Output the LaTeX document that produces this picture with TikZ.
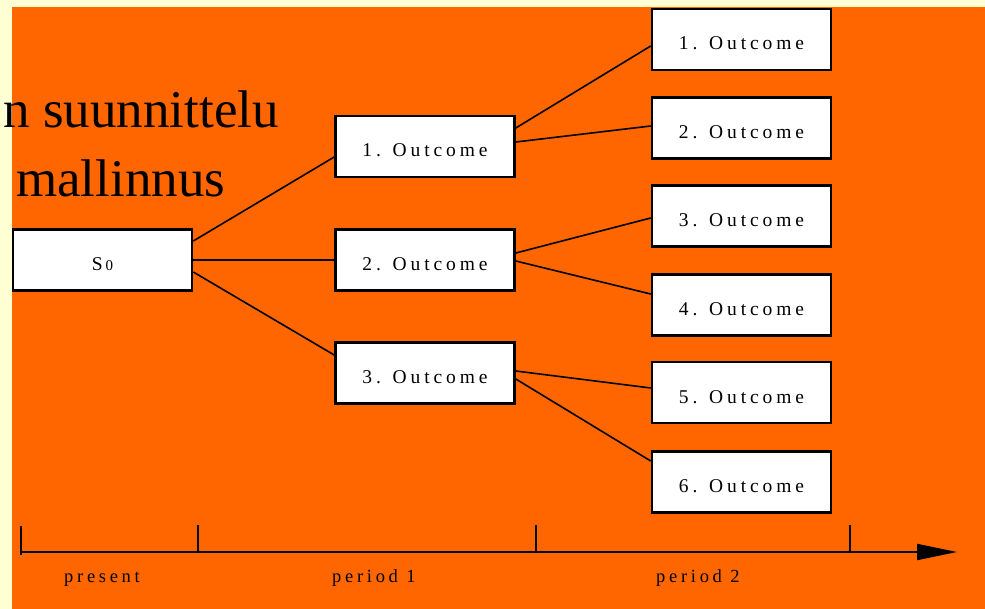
\documentclass[tikz,border=0pt]{standalone}
\usepackage{fontspec}
\setmainfont{Liberation Serif}
\newfontfamily\spcfont[LetterSpace=20]{Liberation Serif}
\usetikzlibrary{arrows.meta}
\definecolor{bgorange}{HTML}{FF6600}
\definecolor{bgcream}{HTML}{FFFFD4}
\begin{document}
\begin{tikzpicture}[x=1pt,y=-1pt,
  box/.style={draw=black, fill=white, line width=2.6pt, minimum width=179pt,
    minimum height=61pt, inner sep=0pt, text height=21pt, text depth=0pt,
    font=\spcfont\fontsize{19.5}{22}\selectfont},
  conn/.style={line width=1.6pt},
  axislbl/.style={anchor=base west, inner sep=0pt, font=\spcfont\fontsize{18.5}{20}\selectfont},
  titletxt/.style={inner sep=0pt, font=\fontsize{53}{60}\selectfont},
  tick/.style={line width=1.5pt}]
\useasboundingbox (0,0) rectangle (985,609);
\fill[bgcream] (0,0) rectangle (985,609);
\fill[bgorange] (12,7) rectangle (985,609);
% title fragments
\node[titletxt, anchor=base east] (t1) at (279,128) {n suunnittelu};
\node[titletxt, anchor=base west] (t2) at (16,197) {mallinnus};
% boxes
\node[box, font=\fontsize{19.5}{22}\selectfont] (s0) at (102.5,260) {S\hspace{3pt}{\fontsize{15}{16}\selectfont 0}};
\node[box] (b11) at (425,146.5) {1. Outcome};
\node[box] (b12) at (425,260) {2. Outcome};
\node[box] (b13) at (425,373) {3. Outcome};
\node[box] (c1) at (741.5,39.5) {1. Outcome};
\node[box] (c2) at (741.5,128) {2. Outcome};
\node[box] (c3) at (741.5,216) {3. Outcome};
\node[box] (c4) at (741.5,305) {4. Outcome};
\node[box] (c5) at (741.5,392.5) {5. Outcome};
\node[box] (c6) at (741.5,482) {6. Outcome};
% connectors
\draw[conn] ([yshift=19pt]s0.east) -- ([yshift=-10.5pt]b11.west);
\draw[conn] (s0.east) -- (b12.west);
\draw[conn] ([yshift=-12pt]s0.east) -- ([yshift=18pt]b13.west);
\draw[conn] ([yshift=18.5pt]b11.east) -- ([yshift=-6.5pt]c1.west);
\draw[conn] ([yshift=4.5pt]b11.east) -- ([yshift=2pt]c2.west);
\draw[conn] ([yshift=7pt]b12.east) -- ([yshift=-2pt]c3.west);
\draw[conn] ([yshift=-1pt]b12.east) -- ([yshift=11pt]c4.west);
\draw[conn] ([yshift=2pt]b13.east) -- ([yshift=4.5pt]c5.west);
\draw[conn] ([yshift=-6pt]b13.east) -- ([yshift=21pt]c6.west);
% time axis
\coordinate (a0) at (21,552);
\coordinate (a1) at (957,552);
\draw[line width=2pt, -{Triangle[length=40pt,width=16pt]}] (a0) -- (a1);
\coordinate (k0) at (21,526);
\coordinate (k1) at (198,525);
\coordinate (k2) at (536,525);
\coordinate (k3) at (850,525);
\draw[tick] (k0) -- ++(0,29);
\draw[tick] (k1) -- ++(0,27);
\draw[tick] (k2) -- ++(0,27);
\draw[tick] (k3) -- ++(0,27);
\node[axislbl] (l0) at (64,582) {present};
\node[axislbl] (l1) at (332,582) {period 1};
\node[axislbl] (l2) at (656,582) {period 2};
\end{tikzpicture}
\end{document}
